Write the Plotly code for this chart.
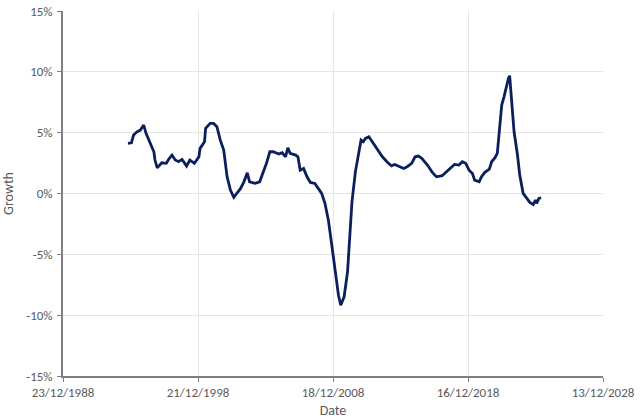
import plotly.graph_objects as go

dates = [
    "1993-10-15", "1994-01-15", "1994-03-15", "1994-06-15", "1994-09-15", "1994-12-15",
    "1995-02-15", "1995-06-15", "1995-09-15", "1995-10-15", "1995-12-15",
    "1996-04-15", "1996-08-15", "1996-10-15", "1997-01-15", "1997-04-15", "1997-07-15",
    "1997-10-15", "1998-02-15", "1998-05-15", "1998-09-15", "1999-01-15", "1999-02-15",
    "1999-06-15", "1999-07-15", "1999-11-15", "2000-02-15", "2000-05-15", "2000-08-15",
    "2000-11-15", "2001-02-15", "2001-05-15", "2001-08-15", "2001-11-15", "2002-02-15",
    "2002-05-15", "2002-08-15", "2002-10-15", "2003-03-15", "2003-07-15", "2003-10-15",
    "2004-01-15", "2004-04-15", "2004-07-15", "2004-12-15", "2005-03-15", "2005-06-15",
    "2005-08-15", "2005-10-15", "2006-03-15", "2006-05-15", "2006-07-15", "2006-10-15",
    "2007-01-15", "2007-04-15", "2007-08-15", "2007-11-15", "2008-02-15", "2008-05-15",
    "2008-08-15", "2008-11-15", "2009-02-15", "2009-05-15", "2009-07-15", "2009-10-15",
    "2010-01-15", "2010-03-15", "2010-05-15", "2010-08-15", "2010-11-15", "2011-01-15",
    "2011-03-15", "2011-05-15", "2011-08-15", "2011-11-15", "2012-02-15", "2012-05-15",
    "2012-08-15", "2012-12-15", "2013-04-15", "2013-07-15", "2013-12-15", "2014-03-15",
    "2014-06-15", "2014-10-15", "2015-01-15", "2015-04-15", "2015-07-15", "2015-12-15",
    "2016-04-15", "2016-08-15", "2017-01-15", "2017-05-15", "2017-10-15", "2017-12-15",
    "2018-04-15", "2018-07-15", "2018-10-15", "2019-01-15", "2019-04-15", "2019-06-15",
    "2019-10-15", "2019-12-15", "2020-03-15", "2020-07-15", "2020-09-15", "2020-12-15",
    "2021-02-15", "2021-04-15", "2021-06-15", "2021-08-15", "2021-09-15", "2021-11-15",
    "2021-12-15", "2022-01-15", "2022-03-15", "2022-05-15", "2022-08-15", "2022-10-15",
    "2023-01-15", "2023-04-15", "2023-07-15", "2023-10-15", "2023-12-15", "2024-01-15",
    "2024-03-15", "2024-05-15",
]

growth = [
    4.12, 4.17, 4.80, 5.07, 5.21, 5.63,
    4.94, 4.12, 3.43, 2.75, 2.11,
    2.52, 2.48, 2.80, 3.16, 2.75, 2.61,
    2.80, 2.25, 2.75, 2.48, 3.02, 3.71,
    4.25, 5.35, 5.76, 5.76, 5.49, 4.39,
    3.57, 1.37, 0.28, -0.32, 0.06, 0.42,
    0.96, 1.70, 0.96, 0.83, 0.96, 1.65,
    2.48, 3.43, 3.43, 3.24, 3.35, 3.02,
    3.76, 3.30, 3.16, 3.02, 1.92, 2.06,
    1.37, 0.91, 0.83, 0.42, 0.01, -0.81,
    -2.19, -4.24, -6.44, -8.36, -9.18, -8.49,
    -6.44, -3.42, -0.68, 1.78, 3.43, 4.39,
    4.25, 4.53, 4.66, 4.25, 3.84, 3.43,
    3.02, 2.61, 2.28, 2.39, 2.20, 2.06,
    2.20, 2.48, 3.02, 3.08, 2.89, 2.34,
    1.78, 1.37, 1.46, 1.78, 2.20, 2.39,
    2.34, 2.61, 2.48, 1.92, 1.65, 1.10,
    0.96, 1.37, 1.74, 2.01, 2.61, 2.94,
    3.30, 5.63, 7.27, 7.95, 8.36, 9.33,
    9.47, 9.68, 7.54, 5.07, 3.16, 1.51,
    0.01, -0.40, -0.73, -0.90, -0.54, -0.81,
    -0.40, -0.35,
]

y_ticks = [-15, -10, -5, 0, 5, 10, 15]
y_tick_labels = ["-15%", "-10%", "-5%", "0%", "5%", "10%", "15%"]

x_start = "1988-12-23"
x_end = "2028-12-13"
x_step_days = 3650

grey = "#595959"
font_family = "Carlito, Calibri, Lato, 'Open Sans', sans-serif"

fig = go.Figure()
fig.add_trace(go.Scatter(
    x=dates, y=growth, mode="lines",
    line=dict(color="#0a1f5c", width=2.8),
    showlegend=False,
))

fig.update_layout(
    width=640, height=419,
    margin=dict(l=63, r=37, t=11, b=43),
    paper_bgcolor="white", plot_bgcolor="white",
    font=dict(family=font_family, size=13, color=grey),
)

fig.update_xaxes(
    range=[x_start, x_end],
    tick0=x_start, dtick=x_step_days * 86400000,
    tickformat="%d/%m/%Y",
    automargin=False,
    showgrid=True, gridcolor="#e6e6e6", gridwidth=1,
    showline=True, linecolor="#7f7f7f", linewidth=1.5,
    ticks="outside", ticklen=4, tickcolor="#7f7f7f",
    tickfont=dict(size=13, color=grey),
    title=dict(text="Date", font=dict(size=14, color=grey), standoff=6),
    zeroline=False,
)
fig.update_yaxes(
    range=[-15, 15],
    tickvals=y_ticks, ticktext=y_tick_labels,
    automargin=False,
    showgrid=True, gridcolor="#e6e6e6", gridwidth=1,
    showline=True, linecolor="#7f7f7f", linewidth=1.5,
    ticks="outside", ticklen=4, tickcolor="#7f7f7f",
    tickfont=dict(size=13, color=grey),
    ticklabelstandoff=2,
    title=dict(text="Growth", font=dict(size=14, color=grey), standoff=10),
    zeroline=False,
)

fig.write_html("out.html")
